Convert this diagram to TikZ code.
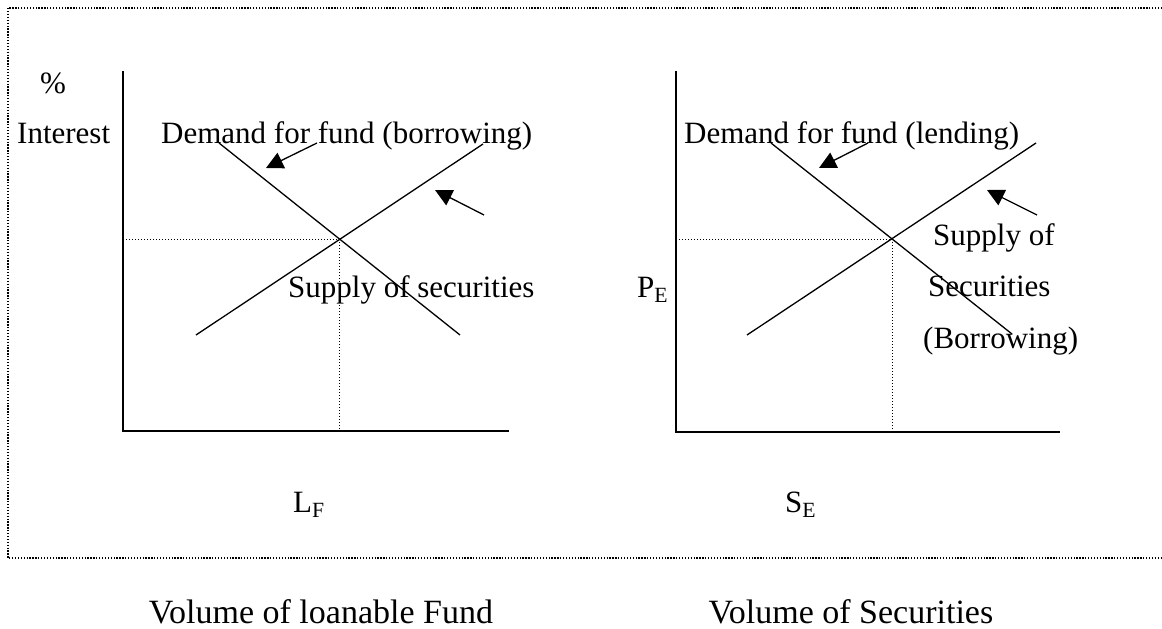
\documentclass[tikz,border=0pt]{standalone}
\usepackage{fontspec}
\setmainfont{Liberation Serif}
\usetikzlibrary{arrows.meta}

\begin{document}
\begin{tikzpicture}[x=1pt,y=-1pt]
    % Define styles
    \tikzset{
        txt/.style={inner sep=0pt, anchor=base west, font=\fontsize{31}{36}\selectfont},
        bigtxt/.style={inner sep=0pt, anchor=base, font=\fontsize{34}{40}\selectfont},
        axis/.style={line width=1.4pt},
        curve/.style={line width=1.3pt},
        guide/.style={line width=1pt, dash pattern=on 1pt off 2pt},
        frame/.style={line width=1.2pt, dash pattern=on 1.3pt off 1.6pt},
        arrow/.style={line width=1.3pt, -{Triangle[length=17pt,width=17pt]}}
    }
    \useasboundingbox (0,0) rectangle (1162,629);

    % Frame
    \draw[frame] (1162,8) -- (8,8) -- (8,558) -- (1162,558);

    % Left graph: loanable funds
    \coordinate (l_top) at (123,71);
    \coordinate (l_origin) at (123,431);
    \coordinate (l_end) at (509,431);
    \coordinate (l_eq) at (339,239);
    \draw[axis] (l_top) -- (l_origin) -- (l_end);
    \draw[guide] (l_origin |- l_eq) -- (l_eq) -- (l_eq |- l_origin);
    \coordinate (l_dem_a) at (219,143);
    \coordinate (l_dem_b) at (460,335);
    \coordinate (l_sup_a) at (196,335);
    \coordinate (l_sup_b) at (483,144);
    \draw[curve] (l_dem_a) -- (l_dem_b);
    \draw[curve] (l_sup_a) -- (l_sup_b);
    \coordinate (l_arr1_s) at (317,143);
    \coordinate (l_arr1_e) at (266,168);
    \coordinate (l_arr2_s) at (484,215);
    \coordinate (l_arr2_e) at (435,190);
    \draw[arrow] (l_arr1_s) -- (l_arr1_e);
    \draw[arrow] (l_arr2_s) -- (l_arr2_e);

    \node[txt] (percent) at (40,93) {\%};
    \node[txt] (interest) at (17,143) {Interest};
    \node[txt] (l_demand) at (161,143) {Demand for fund (borrowing)};
    \node[txt] (l_supply) at (288,297) {Supply of securities};
    \node[txt] (lf) at (293,512) {L\textsubscript{F}};
    \node[bigtxt] (l_volume) at (321,623) {Volume of loanable Fund};

    % Right graph: securities
    \coordinate (r_top) at (676,71);
    \coordinate (r_origin) at (676,432);
    \coordinate (r_end) at (1060,432);
    \coordinate (r_eq) at (892,239);
    \draw[axis] (r_top) -- (r_origin) -- (r_end);
    \draw[guide] (r_origin |- r_eq) -- (r_eq) -- (r_eq |- r_origin);
    \coordinate (r_dem_a) at (771,143);
    \coordinate (r_dem_b) at (1012,334);
    \coordinate (r_sup_a) at (747,335);
    \coordinate (r_sup_b) at (1036,143);
    \draw[curve] (r_dem_a) -- (r_dem_b);
    \draw[curve] (r_sup_a) -- (r_sup_b);
    \coordinate (r_arr1_s) at (868,143);
    \coordinate (r_arr1_e) at (819,168);
    \coordinate (r_arr2_s) at (1037,215);
    \coordinate (r_arr2_e) at (987,190);
    \draw[arrow] (r_arr1_s) -- (r_arr1_e);
    \draw[arrow] (r_arr2_s) -- (r_arr2_e);

    \node[txt] (r_demand) at (684,143) {Demand for fund (lending)};
    \node[txt] (r_supply1) at (933,245) {Supply of};
    \node[txt] (r_supply2) at (928,296) {Securities};
    \node[txt] (r_supply3) at (923,348) {(Borrowing)};
    \node[txt] (pe) at (637,297) {P\textsubscript{E}};
    \node[txt] (se) at (785,512) {S\textsubscript{E}};
    \node[bigtxt] (r_volume) at (851,623) {Volume of Securities};
\end{tikzpicture}
\end{document}
